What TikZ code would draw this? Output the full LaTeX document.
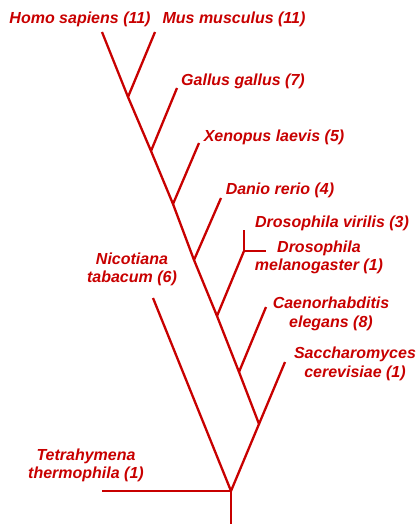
\documentclass[tikz,border=0pt]{standalone}
\usepackage{fontspec}
\setmainfont{Liberation Sans}
\definecolor{tree}{RGB}{200,0,0}
\begin{document}
\begin{tikzpicture}[x=1pt,y=-1pt,
  branch/.style={draw=tree, line width=2.3pt},
  lbl/.style={text=tree, font=\fontsize{16}{18.5}\selectfont\bfseries\itshape, align=center, inner sep=0pt}]
\useasboundingbox (0,0) rectangle (417,524);
% tree coordinates
\coordinate (root) at (231,491);
\coordinate (bottom) at (231,524);
\coordinate (tetT) at (102,491);
\coordinate (nicT) at (153,298);
\coordinate (nS) at (259,424);
\coordinate (sacT) at (285,362);
\coordinate (nC) at (239,372);
\coordinate (caeT) at (266,307);
\coordinate (nD) at (217,316);
\coordinate (droT) at (244,251);
\coordinate (dvT) at (244,230);
\coordinate (dmT) at (266,251);
\coordinate (nDa) at (194,260);
\coordinate (danT) at (221,198);
\coordinate (nX) at (173,204);
\coordinate (xenT) at (199,143);
\coordinate (nG) at (151,151);
\coordinate (galT) at (177,88);
\coordinate (nH) at (128,97);
\coordinate (homT) at (102,32);
\coordinate (musT) at (155,32);
% branches
\draw[branch] (bottom) -- (root);
\draw[branch] (tetT) -- (root);
\draw[branch] (nicT) -- (root);
\draw[branch] (root) -- (nS) -- (nC) -- (nD) -- (nDa) -- (nX) -- (nG) -- (nH) -- (homT);
\draw[branch] (nS) -- (sacT);
\draw[branch] (nC) -- (caeT);
\draw[branch] (nD) -- (droT);
\draw[branch] (dvT) -- (droT) -- (dmT);
\draw[branch] (nDa) -- (danT);
\draw[branch] (nX) -- (xenT);
\draw[branch] (nG) -- (galT);
\draw[branch] (nH) -- (musT);
% labels
\node[lbl] (homo) at (80,19) {Homo sapiens (11)};
\node[lbl] (mus) at (234,19) {Mus musculus (11)};
\node[lbl] (gallus) at (243,81) {Gallus gallus (7)};
\node[lbl] (xeno) at (274,137) {Xenopus laevis (5)};
\node[lbl] (danio) at (280,190) {Danio rerio (4)};
\node[lbl] (dvir) at (332,223) {Drosophila virilis (3)};
\node[lbl] (dmel) at (319,257.5) {Drosophila\\melanogaster (1)};
\node[lbl] (cele) at (331,314) {Caenorhabditis\\elegans (8)};
\node[lbl] (scer) at (355,364) {Saccharomyces\\cerevisiae (1)};
\node[lbl] (ntab) at (132,269.5) {Nicotiana\\tabacum (6)};
\node[lbl] (tthe) at (86,465.5) {Tetrahymena\\thermophila (1)};
\end{tikzpicture}
\end{document}
